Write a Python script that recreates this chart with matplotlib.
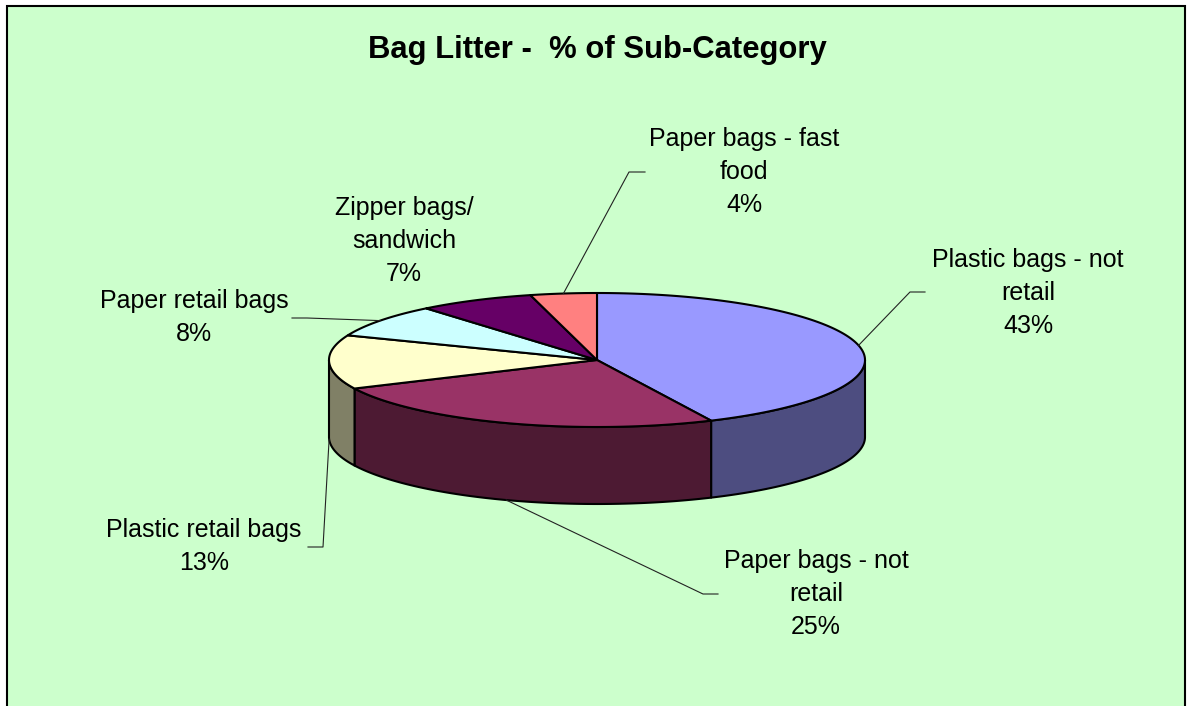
import numpy as np
import matplotlib
matplotlib.use("Agg")
import matplotlib.pyplot as plt
from matplotlib.patches import Polygon, Rectangle
from matplotlib.colors import to_rgb

plt.rcParams['font.family'] = ['Liberation Sans', 'DejaVu Sans']

# data
labels = ["Plastic bags - not\nretail", "Paper bags - not\nretail", "Plastic retail bags",
          "Paper retail bags", "Zipper bags/\nsandwich", "Paper bags - fast\nfood"]
shares = [43, 25, 13, 8, 7, 4]
top_colors = ["#9999FF", "#993366", "#FFFFCC", "#CCFFFF", "#660066", "#FF8080"]

# label anchors (center x, first baseline) and leader elbows, in pixels
label_pos = [(1028, 267), (816, 568), (204, 537), (194, 308), (404, 215), (744, 146)]
elbows = [[(910, 292), (925, 292)], [(703, 594), (718, 594)], [(323, 547), (308, 547)],
          [(307, 318), (292, 318)], None, [(629, 172), (645, 172)]]

W, H = 1187, 706
cx, cy, rx, ry, depth = 597, 360, 268, 67, 77


def pt(theta, dz=0.0):
    t = np.radians(theta)
    return cx + rx * np.sin(t), cy - ry * np.cos(t) + dz


def arc(a, b, dz=0.0):
    th = np.linspace(a, b, max(int(abs(b - a) * 2), 2))
    x, y = pt(th, dz)
    return np.column_stack([x, y])


fig = plt.figure(figsize=(W / 100, H / 100), dpi=100)
fig.patch.set_facecolor("white")
ax = fig.add_axes([0, 0, 1, 1])
ax.set_xlim(0, W)
ax.set_ylim(H, 0)
ax.axis("off")

ax.add_patch(Rectangle((7, 6), 1178, 740, facecolor="#CCFFCC", edgecolor="black", lw=1.5))

ax.text(597, 58, "Bag Litter -  % of Sub-Category", ha="center", va="baseline",
        fontsize=22.3, fontweight="bold")

total = float(sum(shares))
bounds = np.concatenate([[0], np.cumsum(shares)]) / total * 360

# side faces (front half only)
for i, c in enumerate(top_colors):
    lo, hi = max(bounds[i], 90), min(bounds[i + 1], 270)
    if lo < hi:
        side = np.vstack([arc(lo, hi), arc(lo, hi, depth)[::-1]])
        dark = tuple(np.array(to_rgb(c)) * 0.5)
        ax.add_patch(Polygon(side, closed=True, facecolor=dark, edgecolor="black",
                             lw=1.5, joinstyle="round"))

# top faces
for i, c in enumerate(top_colors):
    wedge = np.vstack([[cx, cy], arc(bounds[i], bounds[i + 1])])
    ax.add_patch(Polygon(wedge, closed=True, facecolor=c, edgecolor="black",
                         lw=1.5, joinstyle="round"))

# labels and leader lines
for i, name in enumerate(labels):
    mid = (bounds[i] + bounds[i + 1]) / 2
    lx, ly = label_pos[i]
    lines = name.split("\n") + [f"{shares[i]}%"]
    for k, s in enumerate(lines):
        ax.text(lx, ly + 33 * k, s, ha="center", va="baseline", fontsize=18)
    if elbows[i] is not None:
        start = pt(mid, depth if 90 < mid < 270 else 0)
        path = [start] + elbows[i]
        xs, ys = zip(*path)
        ax.plot(xs, ys, color="#222222", lw=0.8)

fig.savefig("out.png", dpi=100)
